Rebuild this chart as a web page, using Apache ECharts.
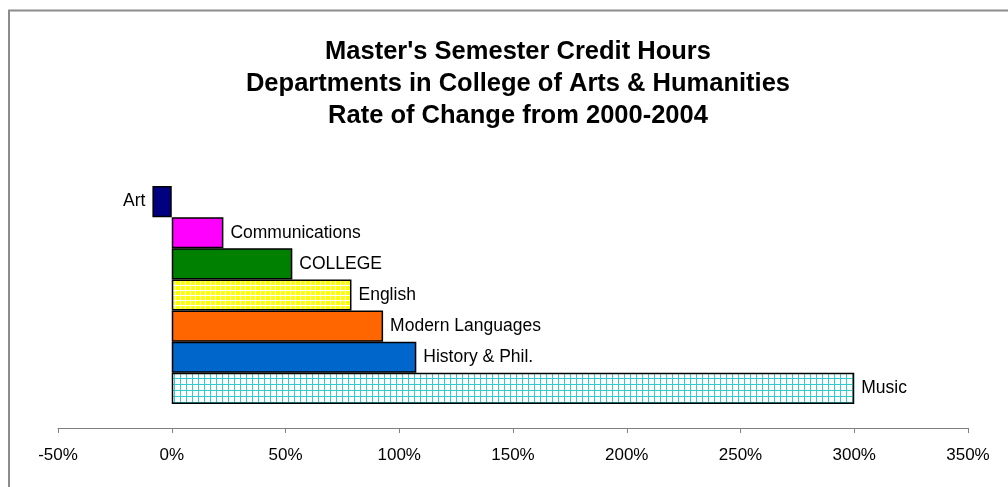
<!DOCTYPE html>
<html>
<head>
<meta charset="utf-8">
<script src="https://cdn.jsdelivr.net/npm/echarts@6/dist/echarts.min.js"></script>
<style>
  html, body { margin: 0; padding: 0; background: #fff; }
  #chart { width: 1008px; height: 487px; }
</style>
</head>
<body>
<div id="chart"></div>
<script>
// Departments, top to bottom
const departments = ['Art', 'Communications', 'COLLEGE', 'English', 'Modern Languages', 'History & Phil.', 'Music'];
// Rate of change in master's SCH, 2000-2004 (%)
const rateOfChange = [-8.5, 22.7, 53.0, 79.0, 92.9, 107.5, 300.0];
const axisMin = -50, axisMax = 350, axisStep = 50;

// Grid fill pattern: cell background with thin lines
function gridPattern(bg, line, cell) {
  const c = document.createElement('canvas');
  c.width = cell; c.height = cell;
  const g = c.getContext('2d');
  g.fillStyle = bg; g.fillRect(0, 0, cell, cell);
  g.fillStyle = line;
  g.fillRect(0, 0, cell, 1);
  g.fillRect(0, 0, 1, cell);
  return { image: c, repeat: 'repeat' };
}

const fills = {
  'Art': '#000080',
  'Communications': '#FF00FF',
  'COLLEGE': '#008000',
  'English': gridPattern('#FFFF00', '#FFFFFF', 5),
  'Modern Languages': '#FF6600',
  'History & Phil.': '#0066CC',
  'Music': gridPattern('#FFFFFF', '#33CCCC', 6)
};

const font = '"Liberation Sans", Arial, sans-serif';

const chart = echarts.init(document.getElementById('chart'), null, { renderer: 'canvas' });
chart.setOption({
  animation: false,
  backgroundColor: '#fff',
  title: {
    text: "Master's Semester Credit Hours\nDepartments in College of Arts & Humanities\nRate of Change from 2000-2004",
    left: 513, textAlign: 'center', top: 31,
    textStyle: { fontFamily: font, fontSize: 25.5, fontWeight: 'bold', color: '#000', lineHeight: 32 }
  },
  graphic: [{
    type: 'polyline', silent: true,
    shape: { points: [[9, 487], [9, 10.5], [1008, 10.5]] },
    style: { stroke: '#8c8c8c', lineWidth: 2, fill: null }
  }],
  grid: { left: 58, right: 40, top: 186, height: 218, containLabel: false },
  xAxis: {
    type: 'value', min: axisMin, max: axisMax, interval: axisStep,
    offset: 24,
    axisLine: { show: true, lineStyle: { color: '#808080', width: 1 } },
    axisTick: { show: true, inside: false, length: 5, lineStyle: { color: '#808080' } },
    splitLine: { show: false },
    axisLabel: { margin: 19, color: '#000', fontFamily: font, fontSize: 17, formatter: v => v + '%' }
  },
  yAxis: {
    type: 'category', data: departments, inverse: true, show: false
  },
  series: [{
    type: 'bar',
    barCategoryGap: 0,
    data: departments.map((d, i) => ({
      value: rateOfChange[i],
      itemStyle: { color: fills[d] },
      label: { position: rateOfChange[i] < 0 ? 'left' : 'right' }
    })),
    itemStyle: { borderColor: '#000', borderWidth: 1.5 },
    label: {
      show: true, distance: 7, color: '#000', fontFamily: font, fontSize: 17.5,
      formatter: p => departments[p.dataIndex]
    }
  }]
});
</script>
</body>
</html>
